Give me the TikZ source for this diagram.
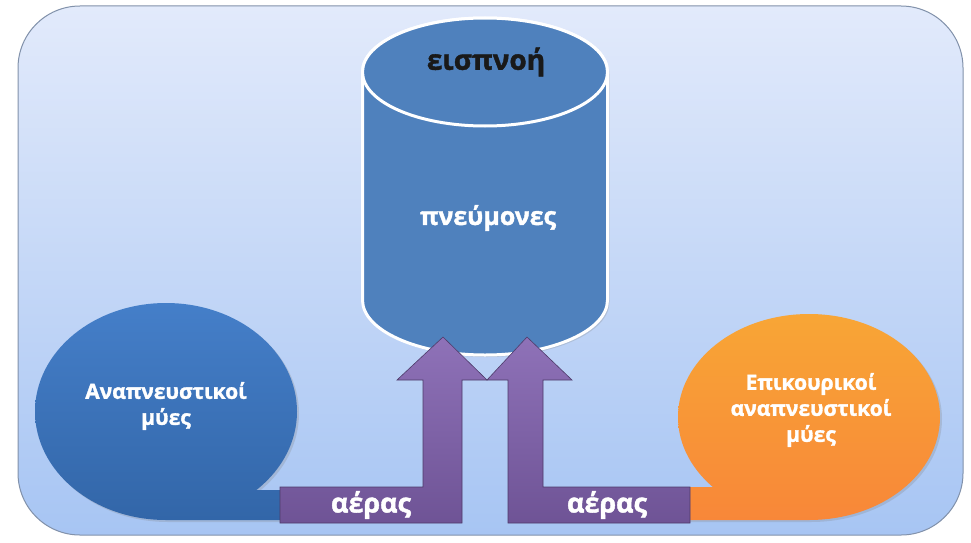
\documentclass[tikz,border=0pt]{standalone}
\usepackage{fontspec}
\setmainfont{Open Sans}[BoldFeatures={FakeBold=1.5}]
\usepackage{tikz}
\usetikzlibrary{shadows}
\definecolor{panelTop}{HTML}{E2EAFB}
\definecolor{panelBot}{HTML}{A7C5F3}
\definecolor{panelLine}{HTML}{8191AA}
\definecolor{lungBlue}{HTML}{4F81BD}
\definecolor{muscBlue}{HTML}{3B78C6}
\definecolor{muscOrange}{HTML}{F7963F}
\definecolor{airPurple}{HTML}{8262B0}

\begin{document}
\begin{tikzpicture}[x=1pt,y=-1pt,
  soft/.style={drop shadow={opacity=0.25,shadow xshift=2pt,shadow yshift=-2pt}},
  bubtxt/.style={align=center,text=white,font=\fontsize{21}{26}\selectfont\bfseries},
  airarrow/.style={top color=airPurple!90!white,bottom color=airPurple!85!black,
    draw=airPurple!60!black,line width=0.6pt,line join=miter},
  airlbl/.style={text=white,font=\fontsize{27}{28}\selectfont\bfseries}]
\useasboundingbox (0,0) rectangle (971,543);

% panel
\draw[panelLine,line width=1pt,rounded corners=62pt,top color=panelTop,bottom color=panelBot]
  (18,6) rectangle (963,535);

% lungs as a cylinder
\draw[white,line width=3pt,fill=lungBlue,soft]
  (362.5,72) -- (362.5,300) arc (180:0:122.5 and 55) -- (607.5,72)
  arc (0:-180:122.5 and 54) -- cycle;
\draw[white,line width=3pt,fill=lungBlue] (485,72) ellipse (122.5 and 54);
\node[font=\fontsize{28}{30}\selectfont\bfseries,text=black!90] (insp) at (486,62) {εισπνοή};
\node[font=\fontsize{25}{28}\selectfont\bfseries,text=white] (lungs) at (488,218) {πνεύμονες};

% muscles: bubble plus a flat tail to the right/left
\path[soft,top color=muscBlue!95!white,bottom color=muscBlue!85!black]
  (166,411.5) ellipse (131 and 108.5) (292,490) rectangle (166,520);
\node[bubtxt] (resp) at (166,406) {Αναπνευστικοί\\μύες};
\path[soft,top color=muscOrange!85!yellow,bottom color=muscOrange!90!red]
  (809,417) ellipse (131 and 103) (809,487) rectangle (680,520);
\node[bubtxt] (aux) at (811,410) {Επικουρικοί\\αναπνευστικοί\\μύες};

% air flow arrows
\draw[airarrow] (280,487) -- (423,487) -- (423,380) -- (397,380) -- (443,337)
  -- (487,380) -- (462,380) -- (462,523) -- (280,523) -- cycle;
\draw[airarrow] (690,487) -- (543,487) -- (543,380) -- (572,380) -- (527,337)
  -- (487,380) -- (508,380) -- (508,523) -- (690,523) -- cycle;
\node[airlbl] (airL) at (371,505) {αέρας};
\node[airlbl] (airR) at (607,505) {αέρας};
\end{tikzpicture}
\end{document}
